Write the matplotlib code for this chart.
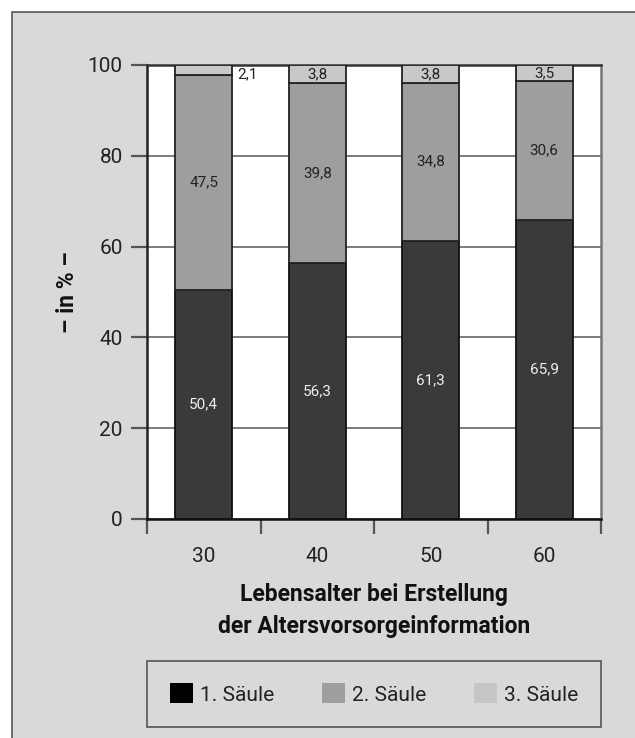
import matplotlib.pyplot as plt
from matplotlib.patches import Rectangle, Patch

plt.rcParams['font.family'] = ['Roboto', 'DejaVu Sans']

# data
ages = ['30', '40', '50', '60']
saeule1 = [50.4, 56.3, 61.3, 65.9]
saeule2 = [47.5, 39.8, 34.8, 30.6]
saeule3 = [2.1, 3.8, 3.8, 3.5]
series_names = ['1. Säule', '2. Säule', '3. Säule']

bg = '#d9d9d9'
c1, c2, c3 = '#3a3a38', '#9e9e9e', '#c8c8c8'

W, H = 635, 738
fig = plt.figure(figsize=(W / 100, H / 100), dpi=100)
fig.patch.set_facecolor('white')

# grey panel behind everything
panel = Rectangle((12 / W, -0.02), 1.0, 1 - 12 / H + 0.02, transform=fig.transFigure,
                  facecolor=bg, edgecolor='#555555', linewidth=1.2, zorder=-10)
fig.patches.append(panel)

ax = fig.add_axes([147 / W, 1 - 519 / H, 454 / W, 454 / H])
ax.set_facecolor('white')

x = range(len(ages))
width = 0.5
bottom2 = [a for a in saeule1]
bottom3 = [a + b for a, b in zip(saeule1, saeule2)]

ax.bar(x, saeule1, width, color=c1, edgecolor='#111111', linewidth=1.3, zorder=3)
ax.bar(x, saeule2, width, bottom=bottom2, color=c2, edgecolor='#222222', linewidth=1.3, zorder=3)
ax.bar(x, saeule3, width, bottom=bottom3, color=c3, edgecolor='#222222', linewidth=1.3, zorder=3)

# value labels
for i in x:
    ax.text(i, saeule1[i] / 2, f'{saeule1[i]:.1f}'.replace('.', ','), ha='center', va='center',
            fontsize=11, color='#eeeeee', zorder=5)
    ax.text(i, bottom2[i] + saeule2[i] / 2, f'{saeule2[i]:.1f}'.replace('.', ','), ha='center',
            va='center', fontsize=11, color='#222222', zorder=5)
    lab3 = f'{saeule3[i]:.1f}'.replace('.', ',')
    if saeule3[i] < 3:
        ax.annotate(lab3, (i + width / 2, 100), xytext=(4, -1.5), textcoords='offset points',
                    ha='left', va='top', fontsize=11, color='#222222', zorder=5)
    else:
        ax.text(i, bottom3[i] + saeule3[i] / 2, lab3, ha='center', va='center',
                fontsize=11, color='#222222', zorder=5)

ax.set_xlim(-0.5, len(ages) - 0.5)
ax.set_ylim(0, 100)
ax.set_yticks([0, 20, 40, 60, 80, 100])
ax.yaxis.grid(True, color='#666666', linewidth=1.2, zorder=0)
ax.set_axisbelow(True)

ax.set_xticks(list(x))
ax.set_xticklabels(ages)
ax.set_xticks([-0.5, 0.5, 1.5, 2.5, 3.5], minor=True)
ax.tick_params(axis='x', which='major', length=0, pad=20, labelsize=15, labelcolor='#222222')
ax.tick_params(axis='x', which='minor', length=11, width=1.6, color='#555555', direction='out')
ax.tick_params(axis='y', length=11.5, width=1.6, color='#555555', labelsize=15,
               labelcolor='#222222', pad=6)

ax.spines['left'].set_color('#222222')
ax.spines['bottom'].set_color('#111111')
ax.spines['top'].set_color('#333333')
ax.spines['right'].set_color('#777777')
for s in ax.spines.values():
    s.set_linewidth(1.8)

# axis titles
fig.text(67 / W, 1 - 292 / H, '– in % –', rotation=90, ha='center', va='center',
         fontsize=16.5, fontweight='bold', color='#111111')
fig.text(374 / W, 1 - 594 / H, 'Lebensalter bei Erstellung', ha='center', va='center',
         fontsize=16.5, fontweight='bold', color='#111111')
fig.text(374 / W, 1 - 626 / H, 'der Altersvorsorgeinformation', ha='center', va='center',
         fontsize=16.5, fontweight='bold', color='#111111')

# legend
handles = [Patch(facecolor=c, edgecolor='none') for c in ['#000000', c2, '#c6c6c6']]
leg = fig.legend(handles, series_names, loc='center', ncol=3, mode='expand',
                 bbox_to_anchor=(147 / W, 1 - 734 / H, 454 / W, 80 / H),
                 fontsize=15, frameon=True, fancybox=False, framealpha=1,
                 facecolor=bg, edgecolor='#555555', handlelength=1.1, handleheight=1.1,
                 handletextpad=0.35, borderpad=1.1, borderaxespad=0)
leg.get_frame().set_linewidth(1.2)
for t in leg.get_texts():
    t.set_color('#222222')

fig.savefig('out.png', dpi=100)
